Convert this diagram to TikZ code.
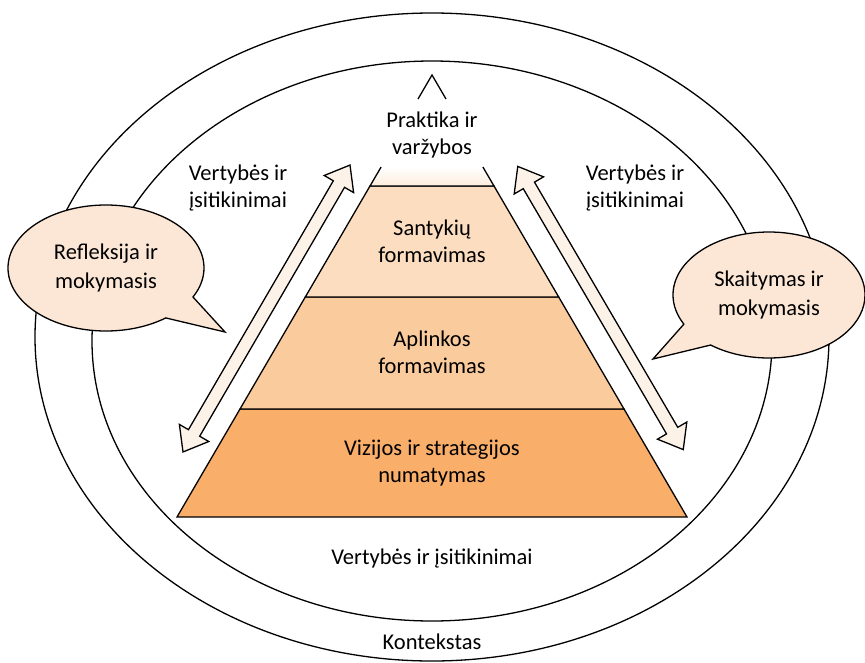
\documentclass[tikz,border=0pt]{standalone}
\usepackage{fontspec}
\setmainfont{Carlito}
\usetikzlibrary{shapes.callouts}
\definecolor{layA}{RGB}{249,174,106}
\definecolor{layB}{RGB}{250,203,157}
\definecolor{layC}{RGB}{252,221,192}
\definecolor{layD}{RGB}{253,236,220}
\definecolor{arrfill}{RGB}{253,242,232}
\definecolor{callfill}{RGB}{252,231,214}
\newcommand{\dblarr}[4]{% center x, center y, angle, half length
  \begin{scope}[shift={(#1,#2)}, rotate=#3]
    \filldraw[ln, fill=arrfill] (-#4,0) -- ({-#4+22},17) -- ({-#4+22},6.5) -- ({#4-22},6.5)
      -- ({#4-22},17) -- (#4,0) -- ({#4-22},-17) -- ({#4-22},-6.5) -- ({-#4+22},-6.5)
      -- ({-#4+22},-17) -- cycle;
  \end{scope}}
\tikzset{
  ln/.style={line width=1.3pt, line join=miter},
  lbl/.style={align=center, font=\fontsize{22.5}{27}\selectfont, inner sep=0pt},
  bubble/.style={ellipse callout, draw, ln, fill=callfill, inner sep=0pt,
    callout pointer arc=25, align=center, font=\fontsize{22.5}{29}\selectfont}
}
\begin{document}
\begin{tikzpicture}[x=1pt,y=-1pt]
\useasboundingbox (0,0) rectangle (865,662);
% context ellipses
\draw[ln] (432,337) ellipse [x radius=397pt, y radius=324pt];
\draw[ln] (432,341) ellipse [x radius=340pt, y radius=280pt];
% pyramid layers
\filldraw[ln, fill=layA] (177,517) -- (687,517) -- (624,409) -- (240,409) -- cycle;
\filldraw[ln, fill=layB] (240,409) -- (624,409) -- (558.7,297) -- (305.3,297) -- cycle;
\filldraw[ln, fill=layC] (305.3,297) -- (558.7,297) -- (494,186) -- (370,186) -- cycle;
\shade[top color=white, bottom color=layD] (370,186) -- (494,186) -- (482.9,167) -- (381.1,167) -- cycle;
\draw[ln] (381.1,167) -- (370,186) -- (494,186) -- (482.9,167);
\draw[ln] (418,99) -- (432,75) -- (446,99);
% arrows
\dblarr{266.5}{308.5}{59.8}{166}
\dblarr{600.5}{308}{120.3}{164}
% callouts
\node[bubble, minimum width=196pt, minimum height=126pt,
  callout absolute pointer={(225,332)}] (refl) at (106,268) {Refleksija ir\\mokymasis};
\node[bubble, minimum width=192pt, minimum height=126pt,
  callout absolute pointer={(653,359)}] (skait) at (769,295) {Skaitymas ir\\mokymasis};
% labels
\node[lbl] (prak) at (432,135) {Praktika ir\\varžybos};
\node[lbl] (sant) at (432,241) {Santykių\\formavimas};
\node[lbl] (apl) at (432,352) {Aplinkos\\formavimas};
\node[lbl] (viz) at (432,463) {Vizijos ir strategijos\\numatymas};
\node[lbl] (vL) at (238,188) {Vertybės ir\\įsitikinimai};
\node[lbl] (vR) at (635,188) {Vertybės ir\\įsitikinimai};
\node[lbl] (vB) at (432,558) {Vertybės ir įsitikinimai};
\node[lbl] (kont) at (432,642) {Kontekstas};
\end{tikzpicture}
\end{document}
